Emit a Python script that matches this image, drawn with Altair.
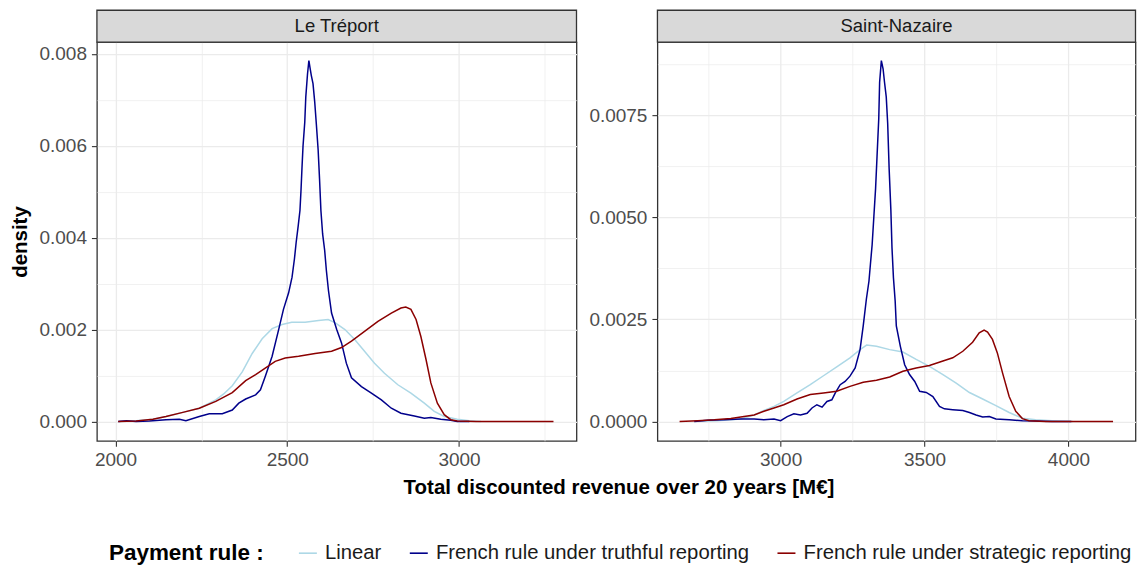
import altair as alt
import pandas as pd

# ---------------- data ----------------
series = ["Linear", "French rule under truthful reporting", "French rule under strategic reporting"]
series_colors = ["#ADD8E6", "#00008B", "#8B0000"]
sites = ["Le Tréport", "Saint-Nazaire"]

# Le Tréport
lt_linear_x = [2010, 2060, 2109, 2147, 2196, 2244, 2292, 2315, 2340, 2369, 2398, 2427, 2456, 2485,
               2513, 2552, 2591, 2619, 2639, 2668, 2697, 2725, 2754, 2783, 2822, 2860, 2899, 2928, 2957, 2995,
               3030, 3064]
lt_linear_y = [0.0, 0.00002, 0.00005, 0.00011, 0.0002, 0.00029, 0.00047, 0.0006, 0.00078, 0.00108, 0.00148,
               0.0018, 0.00202, 0.00211, 0.00216, 0.00216, 0.0022, 0.00222, 0.00215, 0.002, 0.00178,
               0.00153, 0.00127, 0.00105, 0.0008, 0.00062, 0.0004, 0.00022, 0.00011, 0.00005, 0.00002, 0.0]

lt_truth_x = [2008, 2032, 2060, 2099, 2147, 2186, 2205, 2244, 2273, 2311, 2340, 2359, 2379, 2408, 2422, 2436,
              2456, 2475, 2489, 2504, 2514, 2521, 2526, 2532, 2537, 2540, 2543, 2546, 2551, 2554, 2559, 2563,
              2566, 2570, 2575, 2580, 2585, 2590, 2594, 2598, 2603, 2609, 2614, 2620, 2629, 2644, 2658, 2672,
              2687, 2716, 2745, 2774, 2803, 2831, 2870, 2899, 2918, 2947, 2976, 2995, 3030]
lt_truth_y = [0.0, 0.00002, 0.0, 0.00001, 0.00004, 0.00005, 0.00002, 0.00011, 0.00017, 0.00017, 0.00025, 0.0004,
              0.00049, 0.00058, 0.00069, 0.00098, 0.00142, 0.002, 0.00244, 0.0028, 0.00314, 0.00354, 0.0039,
              0.00426, 0.00459, 0.00502, 0.00553, 0.006, 0.00651, 0.00706, 0.00756, 0.00785, 0.00771, 0.00753,
              0.00735, 0.00695, 0.00644, 0.0059, 0.00528, 0.00459, 0.00408, 0.00372, 0.00328, 0.00285, 0.00236,
              0.002, 0.00171, 0.00127, 0.00095, 0.00076, 0.00062, 0.00047, 0.00029, 0.00018, 0.00012, 0.00007,
              0.00009, 0.00005, 0.00003, 0.0, 0.0]

lt_strat_x = [2008, 2060, 2109, 2147, 2196, 2244, 2292, 2340, 2379, 2408, 2436, 2465, 2494, 2533, 2581, 2629,
              2658, 2687, 2725, 2764, 2803, 2831, 2845, 2860, 2875, 2889, 2904, 2918, 2937, 2957, 2976, 2995,
              3050, 3150, 3275]
lt_strat_y = [0.0, 0.00001, 0.00005, 0.00011, 0.0002, 0.00029, 0.00044, 0.00063, 0.00089, 0.00102, 0.00116,
              0.00131, 0.00138, 0.00142, 0.00148, 0.00153, 0.00161, 0.00175, 0.00196, 0.00218, 0.00236, 0.00247,
              0.00249, 0.00244, 0.00222, 0.00185, 0.00135, 0.00084, 0.0004, 0.00015, 0.00004, 0.00001, 0.0, 0.0,
              0.0]

# Saint-Nazaire
sn_linear_x = [2700, 2780, 2862, 2908, 2942, 2977, 3011, 3057, 3103, 3149, 3195, 3241, 3276, 3299, 3333, 3379,
               3425, 3471, 3517, 3564, 3610, 3656, 3702, 3748, 3794, 3840, 3886, 3943, 4015]
sn_linear_y = [0.0, 0.00002, 0.00006, 0.00016, 0.00027, 0.00037, 0.00049, 0.0007, 0.0009, 0.00112, 0.00134,
               0.00156, 0.00176, 0.00187, 0.00184, 0.00176, 0.0017, 0.00152, 0.00135, 0.00115, 0.00094, 0.00071,
               0.00055, 0.00039, 0.00022, 0.00008, 0.00004, 0.00002, 0.0]

sn_truth_x = [2700, 2747, 2804, 2862, 2908, 2942, 2977, 3000, 3023, 3046, 3069, 3092, 3109, 3126, 3144, 3161,
              3178, 3190, 3207, 3224, 3241, 3259, 3276, 3287, 3298, 3307, 3312, 3318, 3324, 3330, 3335, 3341,
              3344, 3350, 3356, 3361, 3367, 3372, 3377, 3383, 3387, 3392, 3398, 3402, 3416, 3431, 3448, 3466,
              3483, 3506, 3529, 3552, 3569, 3598, 3633, 3656, 3679, 3702, 3725, 3748, 3794, 3840, 3886, 3943,
              4010]
sn_truth_y = [0.0, 0.00003, 0.00004, 0.00006, 0.00006, 0.00004, 0.00006, 0.00002, 0.00012, 0.00019, 0.00016,
              0.0002, 0.00033, 0.00041, 0.00035, 0.00049, 0.00053, 0.0007, 0.0009, 0.00098, 0.00111, 0.00131,
              0.00176, 0.00234, 0.003, 0.00344, 0.00385, 0.00433, 0.00502, 0.00571, 0.00649, 0.00742, 0.00831,
              0.00884, 0.00864, 0.00831, 0.00795, 0.0073, 0.0062, 0.00519, 0.00425, 0.00352, 0.00295, 0.00234,
              0.00184, 0.00139, 0.00115, 0.00098, 0.00074, 0.00071, 0.00061, 0.00037, 0.00031, 0.00029, 0.00027,
              0.00022, 0.00016, 0.00011, 0.00012, 0.00006, 0.00004, 0.00002, 0.00001, 0.0, 0.0]

sn_strat_x = [2649, 2712, 2770, 2827, 2873, 2908, 2942, 2977, 3011, 3057, 3103, 3149, 3195, 3241, 3287, 3333,
              3379, 3425, 3471, 3517, 3564, 3598, 3633, 3667, 3690, 3707, 3719, 3736, 3753, 3771, 3794, 3817,
              3840, 3863, 3920, 4155]
sn_strat_y = [0.0, 0.00002, 0.00004, 0.00007, 0.00012, 0.00016, 0.00025, 0.00033, 0.00041, 0.00055, 0.00066,
              0.0007, 0.00074, 0.00086, 0.00096, 0.00101, 0.00109, 0.00123, 0.00131, 0.00137, 0.00148, 0.00156,
              0.00172, 0.00194, 0.00217, 0.00224, 0.00219, 0.00201, 0.00168, 0.00119, 0.00061, 0.00025, 0.00007,
              0.00002, 0.0, 0.0]

# axis ticks / grid values
lt_x_major = [2000, 2500, 3000]
lt_x_minor = [2250, 2750, 3250]
lt_y_major = [0.0, 0.002, 0.004, 0.006, 0.008]
lt_y_minor = [0.001, 0.003, 0.005, 0.007]
sn_x_major = [3000, 3500, 4000]
sn_x_minor = [2750, 3250, 3750]
sn_y_major = [0.0, 0.0025, 0.005, 0.0075]
sn_y_minor = [0.00125, 0.00375, 0.00625, 0.00875]

x_title = "Total discounted revenue over 20 years [M€]"
y_title = "density"
legend_title = "Payment rule :"

FONT = "Liberation Sans"
W1, W2, H, STRIP, GAP = 480, 478.5, 399, 32, 81


def make_df(site, xs_list, ys_list):
    rows = []
    for name, xs, ys in zip(series, xs_list, ys_list):
        for x, y in zip(xs, ys):
            rows.append({"site": site, "rule": name, "x": x, "y": y})
    return pd.DataFrame(rows)


df_lt = make_df(sites[0], [lt_linear_x, lt_truth_x, lt_strat_x], [lt_linear_y, lt_truth_y, lt_strat_y])
df_sn = make_df(sites[1], [sn_linear_x, sn_truth_x, sn_strat_x], [sn_linear_y, sn_truth_y, sn_strat_y])

legend = alt.Legend(
    title=legend_title, orient="none", legendX=12, legendY=501, direction="horizontal", columns=3,
    titleOrient="left", titleFont=FONT, titleFontSize=22.5, titleFontWeight="bold", titleColor="#000000",
    titlePadding=33, titleBaseline="middle", titleAnchor="middle", titleLimit=0,
    labelFont=FONT, labelFontSize=20.3, labelColor="#1A1A1A", labelOffset=7, labelLimit=0,
    symbolType="stroke", symbolSize=324, symbolStrokeWidth=1.6, columnPadding=24,
)


def axis_props(major, minor, fmt):
    vals = sorted(major + minor)
    is_major = "indexof(" + str(list(major)) + ", datum.value) >= 0"
    return dict(
        values=vals, format=fmt,
        labelExpr=is_major + " ? datum.label : ''",
        tickOpacity={"condition": {"test": is_major, "value": 1}, "value": 0},
        gridWidth={"condition": {"test": is_major, "value": 1.3}, "value": 0.7},
    )


def panel(site, df, width, xdom, ydom, xmaj, xmin, ymaj, ymin, yfmt, first):
    xs = alt.Scale(domain=xdom, nice=False, zero=False)
    ys = alt.Scale(domain=ydom, nice=False, zero=False)
    if first:
        xaxis = alt.Axis(title=x_title, titleX=522, titleY=47,
                         titleBaseline="middle", titleAlign="center", labelFlush=False,
                         **axis_props(xmaj, xmin, "d"))
        yaxis = alt.Axis(title=y_title, titleX=-76, titleY=H / 2,
                         titleBaseline="middle", titleAlign="center", titleAngle=270,
                         **axis_props(ymaj, ymin, yfmt))
    else:
        xaxis = alt.Axis(title=None, labelFlush=False, **axis_props(xmaj, xmin, "d"))
        yaxis = alt.Axis(title=None, **axis_props(ymaj, ymin, yfmt))
    lines = alt.Chart(df).mark_line(strokeWidth=1.5).encode(
        x=alt.X("x:Q", scale=xs, axis=xaxis),
        y=alt.Y("y:Q", scale=ys, axis=yaxis),
        color=alt.Color("rule:N", scale=alt.Scale(domain=series, range=series_colors), legend=legend),
        detail="rule:N",
    )
    sdf = pd.DataFrame({"s": [site]})
    strip_bg = alt.Chart(sdf).mark_rect(fill="#D9D9D9", stroke="#333333", strokeWidth=1.3).encode(
        x=alt.value(0), x2=alt.value(width), y=alt.value(-STRIP), y2=alt.value(0))
    strip_tx = alt.Chart(sdf).mark_text(font=FONT, fontSize=18.5, color="#1A1A1A", baseline="middle",
                                        align="center").encode(
        x=alt.value(width / 2), y=alt.value(-STRIP / 2), text="s:N")
    return alt.layer(lines, strip_bg, strip_tx).properties(width=width, height=H)


p1 = panel(sites[0], df_lt, W1, [1946, 3342], [-0.00042, 0.00825], lt_x_major, lt_x_minor,
           lt_y_major, lt_y_minor, ".3f", True)
p2 = panel(sites[1], df_sn, W2, [2572, 4233], [-0.000475, 0.00929], sn_x_major, sn_x_minor,
           sn_y_major, sn_y_minor, ".4f", False)

chart = alt.hconcat(p1, p2, spacing=GAP, bounds="flush").configure(
    padding={"left": 2, "top": 0, "right": 0, "bottom": 0},
    background="white",
).configure_view(
    stroke="#333333", strokeWidth=1.3, fill="white"
).configure_axis(
    grid=True, gridColor="#EBEBEB", domain=False,
    ticks=True, tickColor="#333333", tickSize=5.5, tickWidth=1.1,
    labelFont=FONT, labelFontSize=19, labelColor="#4D4D4D", labelPadding=4,
    titleFont=FONT, titleFontSize=20.5, titleFontWeight="bold", titleColor="#000000",
).configure_axisY(labelPadding=5)

chart.save("out.html", embed_options={"renderer": "svg", "actions": False})
